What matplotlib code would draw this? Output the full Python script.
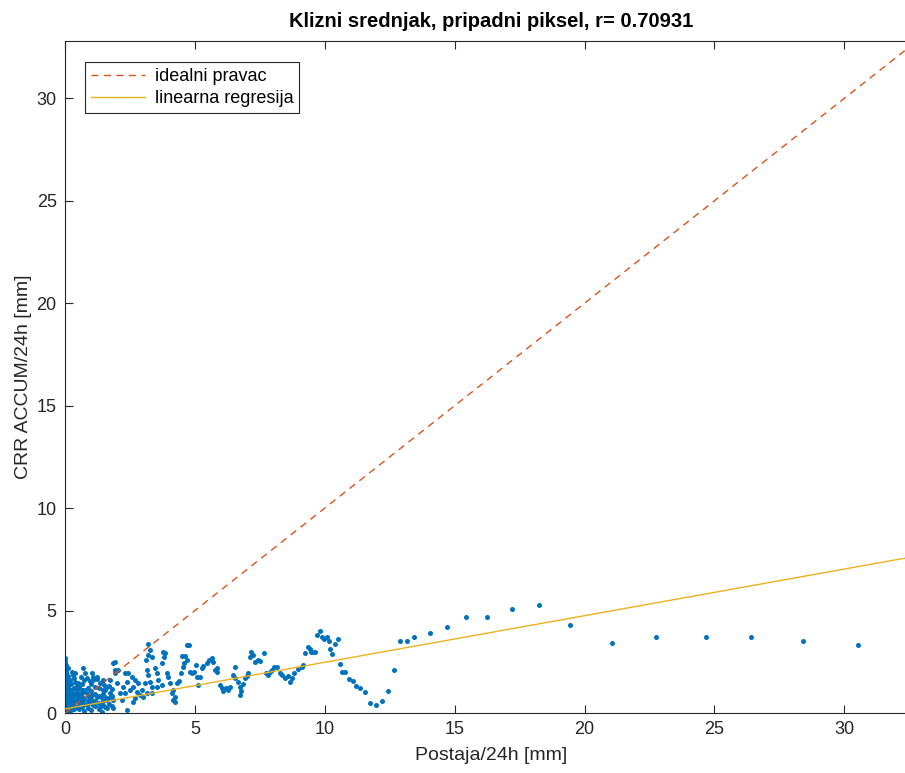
import matplotlib
matplotlib.use('Agg')
import matplotlib.pyplot as plt
import numpy as np

plt.rcParams['font.family'] = ['Liberation Sans', 'DejaVu Sans']

# station values (x) and CRR accumulated values (y)
# dense part near the origin
x_near = [0, 0, 0, 0, 0, 0, 0, 0, 0, 0, 0, 0, 0, 0, 0, 0, 0, 0, 0, 0, 0, 0, 0, 0, 0, 0, 0, 0,
          0.02, 0.02, 0.02, 0.02, 0.02, 0.02, 0.02, 0.02, 0.02, 0.02, 0.02, 0.02,
          0.05, 0.05, 0.05, 0.05, 0.05, 0.05, 0.05, 0.05,
          0.1, 0.1, 0.1, 0.1, 0.1, 0.1, 0.1, 0.1,
          0.15, 0.15, 0.15, 0.15, 0.15,
          0.25, 0.25, 0.25, 0.25, 0.25,
          0.35, 0.35, 0.35, 0.35, 0.35, 0.35,
          0.45, 0.45, 0.45, 0.45,
          0.55, 0.55, 0.55, 0.55, 0.55,
          0.65, 0.65, 0.65, 0.65,
          0.75, 0.75, 0.75, 0.75, 0.75,
          0.9, 0.9, 0.9, 0.9,
          1.0, 1.0, 1.0, 1.0, 1.0,
          1.15, 1.15, 1.15,
          1.3, 1.3, 1.3, 1.3,
          1.45, 1.45, 1.45, 1.45,
          1.55, 1.55, 1.55,
          1.7, 1.7, 1.7,
          1.8, 1.8, 1.8,
          0.26, 0.19, 0.39, 0.51, 0.71, 0.77, 0.84, 1.03, 1.09, 1.22, 1.16, 1.35, 1.47,
          1.61, 1.73, 1.86, 1.93, 1.73, 1.86, 1.61, 1.41, 1.22, 1.03, 0.84, 0.64, 0.45,
          0.32, 0.26, 0.45, 0.64, 0.84, 1.09, 1.35, 1.61, 1.41, 1.86, 0.19, 0.32, 0.13,
          0.19, 1.09, 1.41, 0.3, 0.38, 0.6, 0.95, 1.25, 1.5]
y_near = [0.0, 0.05, 0.1, 0.2, 0.3, 0.4, 0.5, 0.6, 0.7, 0.8, 0.9, 1.0, 1.1, 1.2, 1.3, 1.4,
          1.5, 1.6, 1.7, 1.8, 1.9, 2.0, 2.1, 2.2, 2.3, 2.4, 2.55, 2.7,
          0.15, 0.35, 0.55, 0.75, 0.95, 1.15, 1.35, 1.55, 1.75, 1.95, 2.15, 2.35,
          0.1, 0.3, 0.5, 0.8, 1.0, 1.3, 1.6, 2.0,
          0.2, 0.4, 0.6, 0.9, 1.2, 1.5, 1.8, 2.2,
          0.1, 0.35, 0.7, 1.0, 1.4,
          0.15, 0.5, 0.8, 1.1, 1.4,
          0.2, 0.35, 0.6, 0.9, 1.2, 1.7,
          0.3, 0.8, 1.0, 1.3,
          0.2, 0.5, 0.7, 0.95, 1.25,
          0.3, 0.8, 1.0, 1.4,
          0.1, 0.45, 0.7, 1.1, 1.6,
          0.25, 0.6, 0.85, 1.2,
          0.15, 0.5, 0.7, 1.05, 1.4,
          0.35, 0.6, 0.95,
          0.2, 0.5, 0.85, 1.2,
          0.4, 0.6, 0.95, 1.6,
          0.3, 0.8, 1.1,
          0.45, 0.75, 1.3,
          0.35, 0.85, 1.15,
          2.02, 1.61, 1.53, 1.45, 2.18, 1.94, 1.69, 1.94, 1.61, 1.77, 1.28, 1.45, 1.12,
          1.28, 1.61, 2.42, 2.10, 0.96, 0.63, 0.63, 0.72, 0.80, 0.88, 0.96, 1.12, 1.12,
          0.96, 0.72, 0.63, 0.55, 0.39, 0.39, 0.31, 0.23, 0.06, 0.23, 0.31, 0.47, 1.28,
          0.96, 1.77, 1.53, 1.85, 1.95, 1.75, 1.55, 1.65, 1.35]

# 2 - 4.3 mm
x_mid1 = [3.21, 3.27, 3.18, 3.11, 3.34, 3.85, 3.82, 3.72, 3.92, 3.98, 3.53, 3.59, 3.47,
          3.15, 3.21, 3.27, 3.34, 3.08, 2.95, 2.82, 2.70, 2.57, 2.44, 2.37, 2.31, 2.24,
          2.31, 2.50, 2.63, 2.76, 2.89, 3.02, 3.15, 3.34, 3.53, 3.72, 4.04, 2.18, 2.37,
          2.12, 1.99, 1.93, 2.05, 1.93, 2.63, 2.70, 3.79]
y_mid1 = [3.37, 3.07, 2.83, 2.59, 2.75, 2.91, 2.75, 2.42, 1.94, 1.77, 1.94, 1.61, 2.18,
          2.10, 1.85, 1.53, 1.28, 1.45, 1.12, 1.45, 1.61, 1.77, 1.94, 1.53, 1.94, 1.28,
          0.96, 1.12, 1.28, 1.04, 0.88, 0.80, 0.96, 0.96, 1.28, 1.37, 1.45, 0.63, 0.15,
          0.96, 1.45, 1.94, 2.10, 2.50, 0.55, 0.72, 2.99]

# 4 - 6.6 mm
x_mid2 = [4.17, 4.24, 4.15, 4.22, 4.11, 4.30, 4.40, 4.46, 4.53, 4.58, 4.49, 4.69, 4.79,
          4.62, 4.71, 4.81, 4.89, 4.97, 5.04, 5.09, 5.13, 5.20, 5.26, 5.33, 5.46, 5.56,
          5.65, 5.71, 5.84, 5.87, 5.97, 6.03, 6.10, 6.20, 6.29, 6.35, 6.46, 6.55, 5.78]
y_mid2 = [1.12, 0.80, 0.63, 0.55, 0.96, 1.45, 1.58, 1.94, 2.26, 2.42, 2.78, 3.30, 3.30,
          2.78, 2.59, 2.02, 1.94, 2.02, 2.34, 1.77, 1.37, 1.77, 2.18, 2.29, 2.42, 2.59,
          2.67, 2.50, 2.18, 2.02, 1.37, 1.20, 1.09, 1.20, 1.12, 1.28, 1.85, 1.69, 2.10]

# 6.5 - 9.5 mm
x_mid3 = [6.55, 6.67, 6.73, 6.78, 6.74, 6.87, 6.93, 7.00, 7.06, 7.16, 7.12, 7.25, 7.32,
          7.42, 7.51, 7.67, 7.74, 7.83, 7.88, 7.96, 8.06, 8.15, 8.28, 8.37, 8.47, 8.60,
          8.66, 8.73, 8.83, 8.96, 9.11, 9.18, 9.24, 9.37, 9.47]
y_mid3 = [2.26, 1.53, 1.28, 1.09, 0.88, 1.41, 1.69, 1.80, 1.94, 2.99, 2.72, 2.83, 2.50,
          2.58, 2.55, 2.91, 1.97, 1.85, 2.02, 2.10, 2.26, 2.26, 1.97, 1.85, 1.69, 1.80,
          1.53, 1.69, 1.94, 2.13, 2.26, 2.34, 2.91, 3.20, 2.99]

# 9.4 mm and above
x_high = [9.43, 9.52, 9.63, 9.72, 9.82, 9.91, 9.99, 10.08, 10.15, 10.41, 10.50, 10.20,
          10.28, 10.59, 10.68, 10.79, 10.95, 11.08, 11.22, 11.35, 11.56, 11.76, 11.96,
          12.21, 12.43, 12.66, 12.89, 13.17, 13.45, 14.07, 14.72, 15.43, 16.24, 17.21,
          18.24, 19.45, 21.06, 22.77, 24.68, 26.41, 28.42, 30.53]
y_high = [3.14, 2.99, 2.98, 3.79, 4.00, 3.69, 3.61, 3.69, 3.50, 3.38, 3.60, 3.11,
          2.89, 2.39, 2.00, 2.00, 1.67, 1.56, 1.30, 1.20, 1.01, 0.50, 0.39,
          0.60, 1.09, 2.08, 3.50, 3.50, 3.69, 3.89, 4.20, 4.70, 4.70, 5.09,
          5.28, 4.29, 3.40, 3.69, 3.69, 3.69, 3.50, 3.30]

postaja = np.array(x_near + x_mid1 + x_mid2 + x_mid3 + x_high)
crr = np.array(y_near + y_mid1 + y_mid2 + y_mid3 + y_high)

# regression line
reg_slope = 0.2275
reg_intercept = 0.2
r_value = '0.70931'

blue = '#0072BD'
orange = '#D95319'
yellow = '#EDB120'

fig = plt.figure(figsize=(9.05, 7.73), dpi=100)
ax = fig.add_axes([65 / 905, 60 / 773, 852 / 905, 672 / 773])

ax.scatter(postaja, crr, s=13, color=blue, linewidths=0, zorder=2)

lim = 32.8
xl = np.array([0, lim])
ax.plot(xl, xl, '--', color=orange, lw=1.0, dashes=(5, 4), label='idealni pravac', zorder=3)
ax.plot(xl, reg_intercept + reg_slope * xl, '-', color=yellow, lw=1.0,
        label='linearna regresija', zorder=3)

ax.set_xlim(0, lim)
ax.set_ylim(0, lim)
ax.set_xticks(np.arange(0, 31, 5))
ax.set_yticks(np.arange(0, 31, 5))
ax.tick_params(direction='in', length=6, width=0.8, colors='#262626', labelsize=13,
               top=True, right=True, pad=6)
for sp in ax.spines.values():
    sp.set_color('#262626')
    sp.set_linewidth(0.8)

ax.set_xlabel('Postaja/24h [mm]', fontsize=14, color='#262626', labelpad=6)
ax.set_ylabel('CRR ACCUM/24h [mm]', fontsize=14, color='#262626', labelpad=3)
ax.set_title('Klizni srednjak, pripadni piksel, r= ' + r_value, fontsize=14.5,
             fontweight='bold', pad=10)

leg = ax.legend(loc='upper left', bbox_to_anchor=(20 / 852, 1 - 21 / 672), borderaxespad=0,
                fontsize=13, handlelength=3, fancybox=False, framealpha=1,
                edgecolor='#262626', borderpad=0.35, labelspacing=0.25, handletextpad=0.5)
leg.get_frame().set_linewidth(0.8)

fig.savefig('out.png', dpi=100)
